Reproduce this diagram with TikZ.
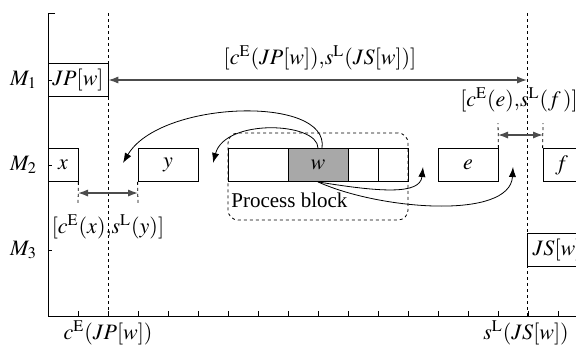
\documentclass[tikz,border=0pt]{standalone}
\usepackage{mathptmx}
\usepackage[no-math]{fontspec}
\setmainfont{Liberation Serif}
\usetikzlibrary{arrows.meta}

\begin{document}
\begin{tikzpicture}[x=0.5pt, y=-0.5pt,
    font=\fontsize{11}{13}\selectfont,
    >={Latex[length=5pt,width=3.6pt]},
    job/.style={draw, minimum height=16.5pt, inner sep=0pt},
    vdash/.style={dash pattern=on 1.5pt off 1.5pt},
    span/.style={<->, line width=0.7pt, draw=black!70}]
    \clip (0,0) rectangle (576,344);
    % axes
    \draw (55,13) -- (48,13) -- (48,316) -- (576,316);
    \foreach \t in {78,108,...,558}
        \draw (\t,316) -- (\t,311);
    \foreach \m/\ypos in {1/80,2/165,3/250} {
        \draw (48,\ypos) -- (52,\ypos);
        \node[anchor=east] (M\m) at (44,\ypos) {$M_\m$};
    }
    \coordinate (cEtop) at (108,13);
    \coordinate (cEbot) at (108,316);
    \coordinate (sLtop) at (527,13);
    \coordinate (sLbot) at (527,316);
    \draw[vdash] (cEtop) -- (cEbot);
    \draw[vdash] (sLtop) -- (sLbot);
    \node (cElab) at (108,333) {$c^{\mathrm{E}}(JP[w])$};
    \node (sLlab) at (526,333) {$s^{\mathrm{L}}(JS[w])$};

    % jobs
    \node[job, minimum width=30pt] (JP) at (78,80) {$JP[w]$};
    \node[job, minimum width=15pt] (x) at (63,165) {$x$};
    \node[job, minimum width=30pt] (y) at (168,165) {$y$};
    \node[job, minimum width=30pt] (b1) at (258,165) {};
    \node[job, minimum width=30pt, fill=black!34] (w) at (318,165) {$w$};
    \node[job, minimum width=15pt] (b3) at (363,165) {};
    \node[job, minimum width=15pt] (b4) at (393,165) {};
    \node[job, minimum width=30pt] (e) at (468,165) {$e$};
    \node[job, minimum width=18.5pt] (f) at (561.5,165) {$f$};
    \node[job, minimum width=30pt] (JS) at (557,250) {$JS[w]$};

    \node[draw, vdash, rounded corners=5pt, minimum width=90pt, minimum height=43.5pt] (pblock) at (318,176.5) {};
    \node[anchor=west, inner sep=1pt, font=\fontsize{10.5}{12}\selectfont] (plabel) at (229,200) {Process block};

    % windows
    \coordinate (sLmid) at (527,80);
    \draw[span] (JP.east) -- (sLmid);
    \node (jwin) at (320,58) {$[c^{\mathrm{E}}(JP[w]){,}s^{\mathrm{L}}(JS[w])]$};

    \coordinate (xa) at (78,205);
    \coordinate (yb) at (138,205);
    \coordinate (xi) at (78,193);
    \coordinate (yi) at (138,193);
    \draw[vdash] (x.south east) -- (xa);
    \draw[vdash] (y.south west) -- (yb);
    \draw[span] (xi) -- (yi);
    \node (xywin) at (108,227) {$[c^{\mathrm{E}}(x){,}s^{\mathrm{L}}(y)]$};

    \coordinate (ea) at (498,123);
    \coordinate (fb) at (543,123);
    \coordinate (ei) at (498,135);
    \coordinate (fi) at (543,135);
    \draw[vdash] (e.north east) -- (ea);
    \draw[vdash] (f.north west) -- (fb);
    \draw[span] (ei) -- (fi);
    \node[inner xsep=1pt] (efwin) at (519,100) {$[c^{\mathrm{E}}(e){,}s^{\mathrm{L}}(f\,)]$};

    % moves of w
    \coordinate (ty) at (123,163);
    \coordinate (tb) at (213,163);
    \coordinate (te) at (423,167);
    \coordinate (tf) at (513,167);
    \draw[->] ([xshift=2pt]w.north) .. controls (330,95) and (160,100) .. (ty);
    \draw[->] (w.north) .. controls (318,122) and (225,118) .. (tb);
    \draw[->] (w.south) .. controls (380,192) and (420,195) .. (te);
    \draw[->] (w.south) .. controls (380,210) and (510,220) .. (tf);
\end{tikzpicture}
\end{document}
